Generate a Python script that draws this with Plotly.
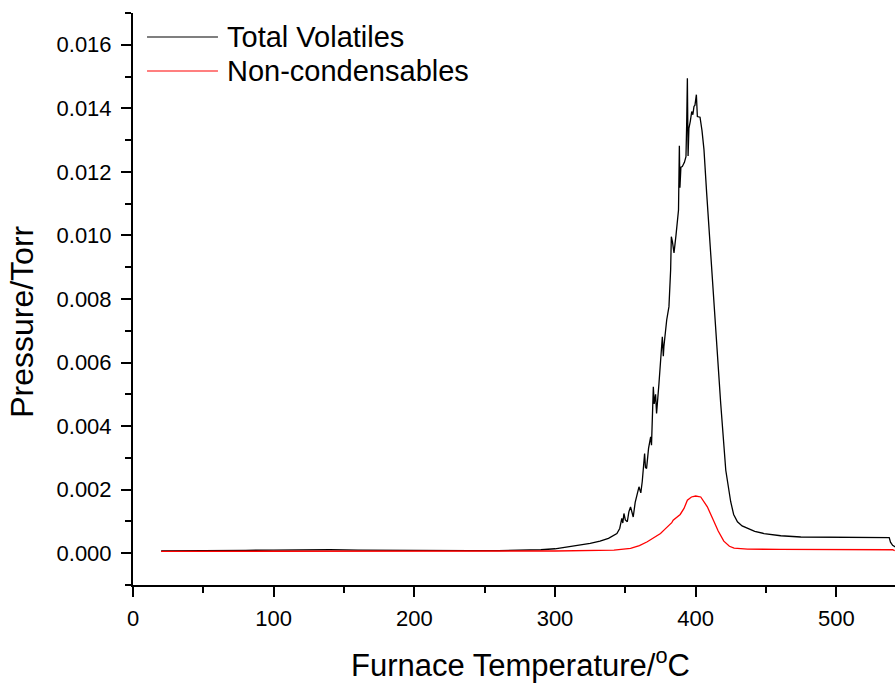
import plotly.graph_objects as go

# Total Volatiles (black)
temp_total = [20, 40, 60, 80, 100, 120, 130, 140, 160, 180, 200, 220, 240, 260, 280, 290, 300, 310,
              318, 325, 332, 338, 344, 346, 347.5, 348.2, 349, 350, 351.4, 352.5, 353.7, 355, 355.6,
              357, 358.5, 359.7, 361, 362, 363.7, 364.3, 365.1, 366.5, 368, 368.6, 369.9, 370.5,
              371.5, 372.2, 373.9, 375, 376.3, 377, 377.4, 379.4, 381, 382.2, 382.7, 383.5, 384.6,
              386, 387, 387.8, 388.4, 388.8, 389.5, 390.5, 392, 393.1, 393.6, 394.1, 394.6, 395.2,
              396.2, 397.2, 398, 398.8, 399.5, 400.5, 401.2, 403.1, 404.5, 405.9, 407.8, 411,
              414.2, 417.8, 421.4, 424.9, 427, 429.7, 433, 436.8, 442, 448.6, 460.5, 474.7, 500, 520, 537.6,
              538.5, 540, 542]
p_total = [0.00007, 0.00007, 0.00008, 0.00009, 0.00010, 0.00011, 0.00011, 0.00011, 0.00010, 0.00009,
           0.00008, 0.00008, 0.00008, 0.00008, 0.00009, 0.00011, 0.00014, 0.00020,
           0.00026, 0.00031, 0.00038, 0.00047, 0.00062, 0.00078, 0.00110, 0.00095, 0.00125, 0.00105,
           0.00099, 0.00130, 0.00146, 0.00120, 0.00114,
           0.00160, 0.00190, 0.00209, 0.00190, 0.00225, 0.00314, 0.00270, 0.00267, 0.00330, 0.00366,
           0.00340, 0.00524, 0.00470,
           0.00500, 0.00440, 0.00534, 0.00610, 0.00681, 0.00620, 0.00650, 0.00734, 0.00776, 0.00891,
           0.00996, 0.00980, 0.00945,
           0.01000, 0.01049, 0.01080, 0.01282, 0.01150, 0.01215, 0.01217, 0.01230, 0.01248, 0.01350,
           0.01495, 0.01250, 0.01337,
           0.01360, 0.01390, 0.01380, 0.01406, 0.01410, 0.01443, 0.01374, 0.01372, 0.01330, 0.01270,
           0.01134, 0.00910,
           0.00702, 0.00471, 0.00261, 0.00162, 0.00122, 0.00099, 0.00086, 0.00078, 0.00069, 0.00062,
           0.00055, 0.00051, 0.00050, 0.00049, 0.00049,
           0.00035, 0.00025, 0.00020]

# Non-condensables (red)
temp_noncond = [20, 100, 200, 280, 300, 318, 341.9, 353.7, 360, 365.6, 370, 375, 378, 382.2, 383,
                384, 387, 389, 391.7, 394.1, 397, 400, 403.6, 406, 408.3, 413, 416, 420, 424,
                427.3, 436.8, 460, 500, 540, 541.5]
p_noncond = [0.00006, 0.00007, 0.00007, 0.00007, 0.00007, 0.00008, 0.00010, 0.00015, 0.00024,
             0.00036, 0.00048, 0.00062, 0.00075, 0.00094, 0.00096,
             0.00104, 0.00114, 0.00122, 0.00141, 0.00167, 0.00177, 0.00180, 0.00177, 0.00162,
             0.00146, 0.00100, 0.00070, 0.00038, 0.00022,
             0.00016, 0.00013, 0.00012, 0.00012, 0.00011, 0.00008]

series_names = ["Total Volatiles", "Non-condensables"]
series_colors = ["black", "red"]

x_title = "Furnace Temperature/<sup>o</sup>C"
y_title = "Pressure/Torr"

FONT = "Arial, 'Liberation Sans', sans-serif"

fig = go.Figure()
fig.add_trace(go.Scatter(x=temp_total, y=p_total, mode="lines", name=series_names[0],
                         line=dict(color=series_colors[0], width=1.3), showlegend=False))
fig.add_trace(go.Scatter(x=temp_noncond, y=p_noncond, mode="lines", name=series_names[1],
                         line=dict(color=series_colors[1], width=1.3), showlegend=False))

axis_common = dict(
    showline=True, linecolor="black", linewidth=2, mirror=False,
    ticks="outside", ticklen=10, tickwidth=2, tickcolor="black",
    showgrid=False, zeroline=False,
    tickfont=dict(family=FONT, size=22, color="black"),
)

fig.update_xaxes(range=[0, 541.7], tickvals=[0, 100, 200, 300, 400, 500], ticklabelstandoff=3,
                 minor=dict(ticks="outside", ticklen=6, tickwidth=2, tickcolor="black", dtick=50, tick0=0),
                 **axis_common)
fig.update_yaxes(range=[-0.001, 0.017], tickvals=[0, 0.002, 0.004, 0.006, 0.008, 0.010, 0.012, 0.014, 0.016],
                 tickformat=".3f", ticklabelstandoff=5,
                 minor=dict(ticks="outside", ticklen=6, tickwidth=2, tickcolor="black", dtick=0.001, tick0=0),
                 **axis_common)

# Legend drawn manually (long line samples as in the original)
legend_y = [0.958, 0.8986]
shapes = []
annotations = []
for name, color, ly in zip(series_names, series_colors, legend_y):
    shapes.append(dict(type="line", xref="paper", yref="paper", x0=0.0184, x1=0.1115, y0=ly, y1=ly,
                       line=dict(color=color, width=1.2)))
    annotations.append(dict(xref="paper", yref="paper", x=0.1208, y=ly, xanchor="left", yanchor="middle",
                            text=name, showarrow=False, font=dict(family=FONT, size=29, color="black")))

annotations.append(dict(xref="paper", yref="paper", x=0.509, y=-0.1355, xanchor="center", yanchor="middle",
                        text=x_title, showarrow=False, font=dict(family=FONT, size=31, color="black")))
annotations.append(dict(xref="paper", yref="paper", x=-0.1457, y=0.46, xanchor="center", yanchor="middle",
                        text=y_title, textangle=-90, showarrow=False,
                        font=dict(family=FONT, size=32, color="black")))

fig.update_layout(
    width=895, height=683,
    margin=dict(l=133, r=0, t=13, b=98),
    paper_bgcolor="white", plot_bgcolor="white",
    shapes=shapes, annotations=annotations,
    showlegend=False,
    font=dict(family=FONT, color="black"),
)

fig.write_html("out.html", config={"displayModeBar": False},
               post_script="document.body.style.margin='0';document.body.style.overflow='hidden';")
